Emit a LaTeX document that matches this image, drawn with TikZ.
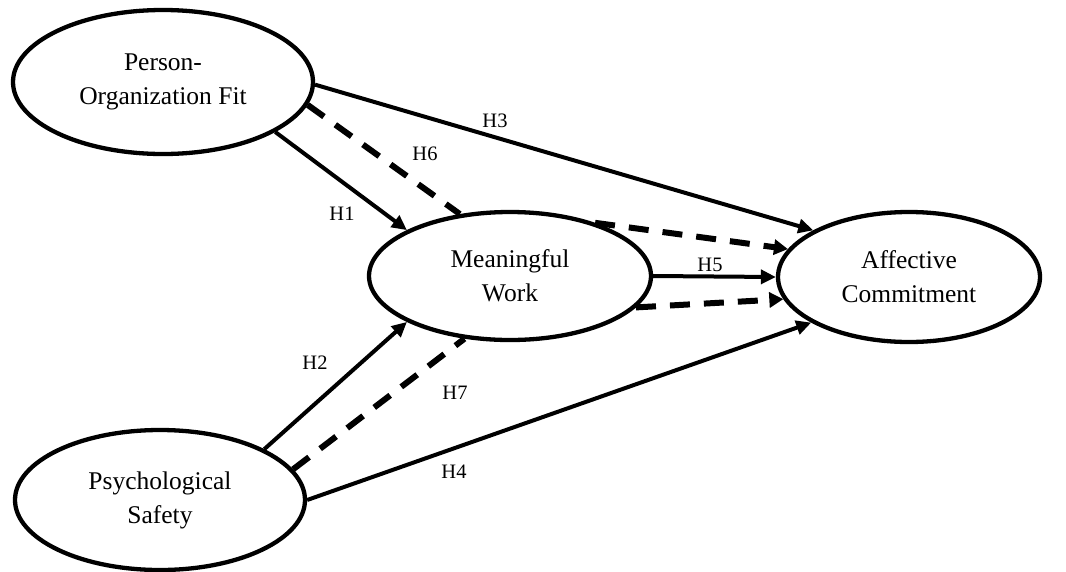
\documentclass[tikz,border=0pt]{standalone}
\usepackage{fontspec}
\setmainfont{Liberation Serif}
\usetikzlibrary{shapes.geometric,arrows.meta}
\tikzset{
  construct/.style={ellipse, draw, line width=4.3pt, inner sep=0pt, align=center,
    font=\fontsize{25.5}{34}\selectfont},
  solidarrow/.style={line width=4pt, -{Triangle[length=15pt,width=14pt]}},
  dashline/.style={line width=6pt, dash pattern=on 20pt off 14pt},
  dasharrow/.style={dashline, -{Triangle[length=14pt,width=15pt]}},
  hlabel/.style={font=\fontsize{20.5}{24}\selectfont, inner sep=0pt}
}
\begin{document}
\begin{tikzpicture}[x=1pt,y=-1pt]
\useasboundingbox (0,0) rectangle (1066,571);
\node[construct, minimum width=300pt, minimum height=144pt] (pof) at (163,82) {Person-\\Organization Fit};
\node[construct, minimum width=282pt, minimum height=128pt] (mw) at (510,276) {Meaningful\\Work};
\node[construct, minimum width=262pt, minimum height=130pt] (ac) at (909,277) {Affective\\Commitment};
\node[construct, minimum width=290pt, minimum height=140pt] (ps) at (160,500) {Psychological\\Safety};

\draw[solidarrow] (pof.-1) -- (ac.154);
\draw[solidarrow] (pof.-24) -- (mw.156);
\draw[dashline] (pof.-9) -- (mw.129);
\draw[dasharrow] (mw.32) -- (ac.167);
\draw[solidarrow] (mw.0) -- (ac.180);
\draw[dasharrow] (mw.-14) -- (ac.190);
\draw[solidarrow] (ps.26) -- (mw.204);
\draw[dashline] (ps.13.5) -- (mw.234);
\draw[solidarrow] (ps.0) -- (ac.205.5);

\node[hlabel] (h3) at (495,121) {H3};
\node[hlabel] (h6) at (425,154) {H6};
\node[hlabel] (h1) at (342,214) {H1};
\node[hlabel] (h5) at (710,265) {H5};
\node[hlabel] (h2) at (315,363) {H2};
\node[hlabel] (h7) at (455,393) {H7};
\node[hlabel] (h4) at (454,472) {H4};
\end{tikzpicture}
\end{document}
